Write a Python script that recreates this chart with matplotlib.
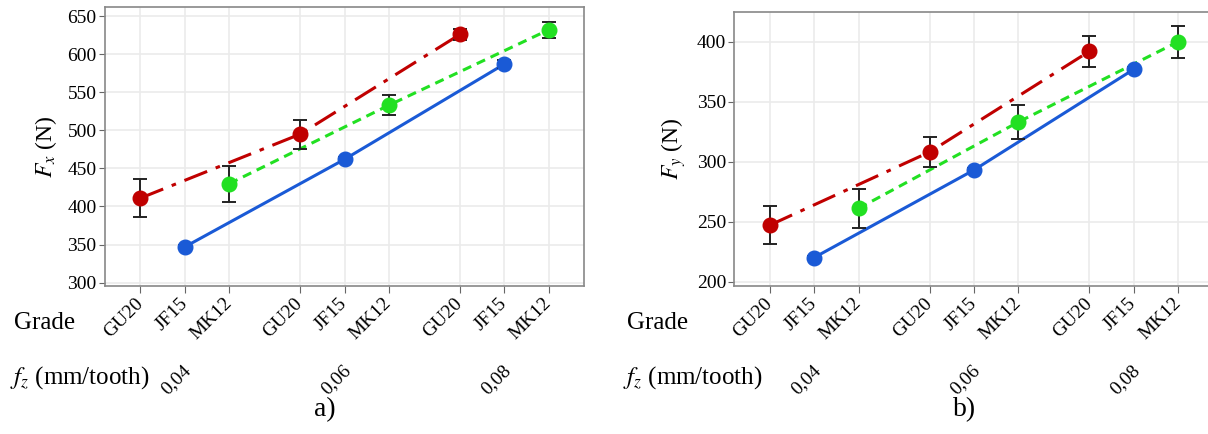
import numpy as np
import matplotlib
matplotlib.use("Agg")
import matplotlib.pyplot as plt
from matplotlib.transforms import blended_transform_factory

plt.rcParams['font.family'] = ['Liberation Serif', 'DejaVu Serif']
plt.rcParams['mathtext.fontset'] = 'stix'

# données
grades = ['GU20', 'JF15', 'MK12']
feeds = ['0,04', '0,06', '0,08']

fx_gu20 = [411, 495, 626]
fx_gu20_err = [24.5, 19, 7]
fx_jf15 = [347, 462, 587]
fx_jf15_err = [2, 3, 5]
fx_mk12 = [430, 533, 632]
fx_mk12_err = [23.5, 13, 10.5]

fy_gu20 = [247, 308, 392]
fy_gu20_err = [16, 12.5, 13]
fy_jf15 = [220, 293, 377]
fy_jf15_err = [1.5, 2, 2]
fy_mk12 = [261, 333, 400]
fy_mk12_err = [16.5, 14, 13.5]

couleurs = {'GU20': '#c00000', 'JF15': '#1a5ad6', 'MK12': '#22e022'}
styles = {'GU20': (0, (8, 3, 1.5, 3)), 'JF15': '-', 'MK12': (0, (3, 2))}

gap = 3.6
pos = {g: [k * gap + i for k in range(3)] for i, g in enumerate(grades)}

fig = plt.figure(figsize=(12.08, 4.34), dpi=100)
ax1 = fig.add_axes([0.0869, 0.3417, 0.3968, 0.6415])
ax2 = fig.add_axes([0.6079, 0.3417, 0.3968, 0.6313])


def tracer(ax, series, ylim, yticks, ylabel):
    for g in grades:
        vals, err = series[g]
        ax.plot(pos[g], vals, color=couleurs[g], linestyle=styles[g], lw=2.2,
                zorder=3)
        ax.errorbar(pos[g], vals, yerr=err, fmt='none', ecolor='#222222',
                    elinewidth=1.4, capsize=5, capthick=1.4, zorder=4)
        ax.plot(pos[g], vals, 'o', color=couleurs[g], ms=10.5, zorder=5)
    xt = sorted(sum(pos.values(), []))
    lab = [grades[int(round(x - gap * int(x // gap)))] for x in xt]
    ax.set_xticks(xt)
    ax.set_xticklabels(lab, rotation=45, ha='right', va='center',
                       rotation_mode='anchor', fontsize=14)
    ax.set_xlim(-0.8, 10.0)
    ax.set_ylim(*ylim)
    ax.set_yticks(yticks)
    ax.tick_params(axis='y', labelsize=14, length=4, color='#666666', pad=2)
    ax.tick_params(axis='x', length=5, color='#666666', pad=6)
    ax.grid(True, color='#ebebeb', lw=1.2, zorder=0)
    for s in ax.spines.values():
        s.set_color('#888888')
        s.set_linewidth(1.2)
    ax.set_ylabel(ylabel, fontsize=17, labelpad=6)
    # niveaux d'avance
    tr = blended_transform_factory(ax.transData, fig.transFigure)
    for k, f in enumerate(feeds):
        ax.text(pos['JF15'][k] + 0.08, 1 - 368 / 434, f, transform=tr,
                rotation=45, ha='right', va='center', rotation_mode='anchor',
                fontsize=14)


tracer(ax1, {'GU20': (fx_gu20, fx_gu20_err), 'JF15': (fx_jf15, fx_jf15_err),
             'MK12': (fx_mk12, fx_mk12_err)},
       (296, 661.5), np.arange(300, 651, 50), '$F_x$ (N)')
tracer(ax2, {'GU20': (fy_gu20, fy_gu20_err), 'JF15': (fy_jf15, fy_jf15_err),
             'MK12': (fy_mk12, fy_mk12_err)},
       (196.5, 425), np.arange(200, 401, 50), '$F_y$ (N)')

fig.text(14 / 1208, 1 - 323 / 434, 'Grade', fontsize=18, va='center')
fig.text(10 / 1208, 1 - 378 / 434, '$f_z$ (mm/tooth)', fontsize=18, va='center')
fig.text(627 / 1208, 1 - 323 / 434, 'Grade', fontsize=18, va='center')
fig.text(623 / 1208, 1 - 378 / 434, '$f_z$ (mm/tooth)', fontsize=18, va='center')
fig.text(325 / 1208, 1 - 410 / 434, 'a)', fontsize=20, ha='center', va='center')
fig.text(965 / 1208, 1 - 410 / 434, 'b)', fontsize=20, ha='center', va='center')

fig.savefig('out.png', dpi=100)
